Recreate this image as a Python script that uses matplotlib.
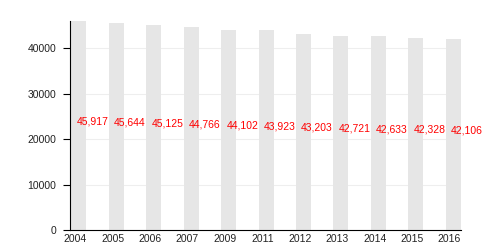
import numpy as np
import matplotlib
matplotlib.use('Agg')
import matplotlib.pyplot as plt

years = ['2004', '2005', '2006', '2007', '2009', '2011',
         '2012', '2013', '2014', '2015', '2016']
population = [45917, 45644, 45125, 44766, 44102, 43923,
              43203, 42721, 42633, 42328, 42106]

plt.rcParams['font.family'] = ['Liberation Sans', 'DejaVu Sans']

fig = plt.figure(figsize=(5, 2.5), dpi=100)
ax = fig.add_axes([0.14, 0.08, 0.782, 0.836])

x = np.arange(len(years))
ax.bar(x, population, width=0.4, color='#e6e6e6', zorder=2)

# value labels, in the middle of each bar
for i, v in enumerate(population):
    ax.text(i - 0.06, v / 2 + 900, '{:,}'.format(v), color='#ff0000',
            fontsize=7.5, ha='left', va='center', zorder=3)

ax.set_xlim(-0.24, 10.21)
ax.set_ylim(0, 46000)
ax.set_xticks(x - 0.1)
ax.set_xticklabels(years)
ax.set_yticks([0, 10000, 20000, 30000, 40000])
ax.tick_params(axis='both', labelsize=7.5, labelcolor='#222222')
ax.tick_params(axis='x', length=0, pad=3)
ax.tick_params(axis='y', length=5, width=0.8, color='black', pad=5)

ax.yaxis.grid(True, color='#eeeeee', linewidth=0.8, zorder=0)
ax.set_axisbelow(True)
for s in ['top', 'right']:
    ax.spines[s].set_visible(False)
ax.spines['left'].set_color('black')
ax.spines['bottom'].set_color('black')

fig.savefig('out.png', dpi=100)
